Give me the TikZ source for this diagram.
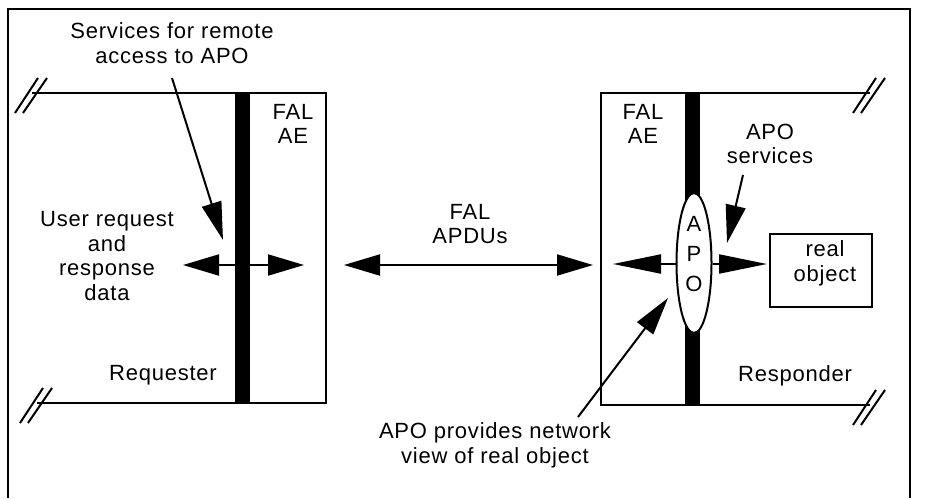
\documentclass[tikz,border=0pt]{standalone}
\usepackage{fontspec}
\setmainfont[LetterSpace=3.5]{Liberation Sans}
\usetikzlibrary{arrows.meta,shapes.geometric}
\tikzstyle{frame} = [line width=1.2pt]
\tikzstyle{box} = [line width=1pt]
\tikzstyle{arrow} = [line width=1pt,-{Triangle[length=19pt,width=10pt]}]
\tikzstyle{longarrow} = [line width=1pt,-{Triangle[length=24pt,width=9.5pt]}]
\tikzstyle{dblarrow} = [line width=1pt,{Triangle[length=18pt,width=10.5pt]}-{Triangle[length=18pt,width=10.5pt]}]

\begin{document}
\begin{tikzpicture}[x=0.5pt, y=-0.5pt, every node/.style={font=\fontsize{11}{12.4}\selectfont, align=center, inner sep=0pt}]
        \useasboundingbox (0,0) rectangle (925,498);

        % outer frame
        \draw[frame] (8,498) -- (8,9) -- (910,9) -- (910,498);

        % Requester side
        \draw[box] (32,93) -- (326,93) -- (326,403) -- (37,403);
        \fill (235,93) rectangle (250,403);

        % Responder side
        \draw[box] (870,93) -- (601,93) -- (601,405) -- (870,405);
        \fill (685,93) rectangle (700,405);

        % break marks
        \foreach \px/\py in {32/93, 37/403, 870/93, 870/405}
          \draw[box, shift={(\px,\py)}] (-17,20) -- (6,-15) (-9,20) -- (15,-15);

        % APO and real object
        \node[draw, ellipse, box, fill=white, minimum width=17.5pt, minimum height=70pt] (apo) at (694,263) {};
        \node[font=\fontsize{11}{15}\selectfont] (apotxt) at (694,254) {A\\P\\O};
        \node[draw, box, minimum width=51pt, minimum height=36.5pt] (obj) at (821,270.5) {};
        \node (objtxt) at (825,263) {real\\object};

        % Labels
        \node (remote) at (172,43) {Services for remote\\access to APO};
        \node (faleft) at (293,124) {FAL\\AE};
        \node (userdata) at (107,256) {User request\\and\\response\\data};
        \node (req) at (163,375) {Requester};
        \node (apdu) at (470,224) {FAL\\APDUs};
        \node (faright) at (643,124) {FAL\\AE};
        \node (aposrv) at (770,144) {APO\\services};
        \node (resp) at (795,376) {Responder};
        \node (view) at (495,445) {APO provides network\\view of real object};

        % Arrows
        \coordinate (ua) at (183,265);
        \coordinate (ub) at (304,265);
        \coordinate (na) at (344,265);
        \coordinate (nb) at (593,265);
        \coordinate (ra) at (613,264);
        \coordinate (rb) at (767,264);
        \draw[dblarrow] (ua) -- (ub);
        \draw[dblarrow] (na) -- (nb);
        \draw[longarrow] (apo.west |- ra) -- (ra);
        \draw[longarrow] (apo.east |- rb) -- (rb);

        \coordinate (sa) at (172,78);
        \coordinate (sb) at (223,240);
        \coordinate (pa) at (743,175);
        \coordinate (pb) at (727,243);
        \coordinate (va) at (578,417);
        \coordinate (vb) at (668,298);
        \draw[arrow] (sa) -- (sb);
        \draw[arrow] (pa) -- (pb);
        \draw[arrow] (va) -- (vb);
      \end{tikzpicture}
\end{document}
